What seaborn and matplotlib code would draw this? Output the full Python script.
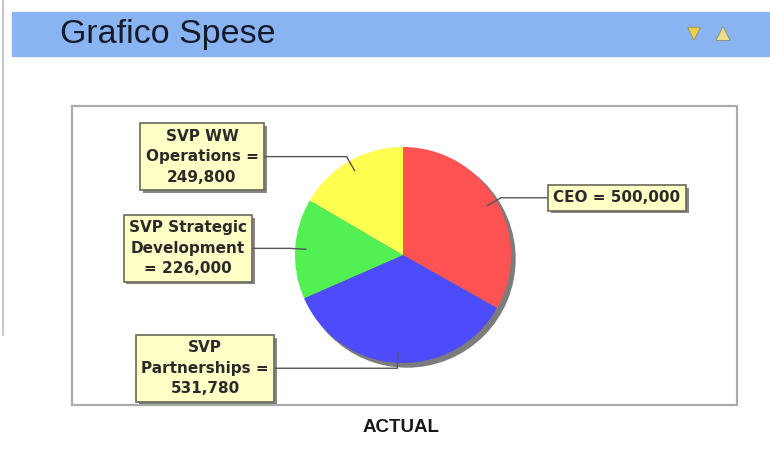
import numpy as np
import matplotlib
matplotlib.use("Agg")
import matplotlib.pyplot as plt
import matplotlib.patheffects as pe
from matplotlib.patches import Rectangle, Circle
import seaborn as sns

# data
labels = ["CEO", "SVP Partnerships", "SVP Strategic Development", "SVP WW Operations"]
values = [500000, 531780, 226000, 249800]
colors = ["#FF5252", "#4C4CFA", "#52F052", "#FFFF52"]
box_texts = [
    f"CEO = {values[0]:,}",
    f"SVP\nPartnerships =\n{values[1]:,}",
    f"SVP Strategic\nDevelopment\n= {values[2]:,}",
    f"SVP WW\nOperations =\n{values[3]:,}",
]
box_x = [617, 205, 188, 202]   # horizontal centre of each label box (px)

title = "Grafico Spese"
subtitle = "ACTUAL"

W, H = 770, 453
sns.set_theme(style="white")

fig = plt.figure(figsize=(W / 100, H / 100), dpi=100)
ax = fig.add_axes([0, 0, 1, 1])

# panel decorations
ax.add_patch(Rectangle((12, H - 56), W - 12, 44, color="#8AB3F2", zorder=0))
ax.plot([3, 3], [H, H - 335], color="#C8C8C8", lw=1.5)
ax.text(60, H - 34, title, fontsize=24.5, family="Liberation Sans",
        color="#141a2a", va="center", ha="left")
ax.text(694, H - 33, "\u25BC", fontsize=11, color="#E8D048", va="center", ha="center",
        path_effects=[pe.withStroke(linewidth=1.2, foreground="#9a9060")])
ax.text(723, H - 33, "\u25B2", fontsize=12, color="#EEDD88", va="center", ha="center",
        path_effects=[pe.withStroke(linewidth=1.2, foreground="#8a8a70")])
ax.add_patch(Rectangle((72, H - 405), 665, 299, fill=False, edgecolor="#ABABAB", lw=1.6, zorder=0))

# pie
cx, cy, r = 403, H - 255, 108
ax.add_patch(Circle((cx + 4, cy - 4), r, color="#7C7C7C", zorder=0.9))
wedges, _ = ax.pie(values, colors=colors, startangle=90, counterclock=False,
                   center=(cx, cy), radius=r, wedgeprops=dict(linewidth=0))

# leader lines and label boxes
for w, txt, bx in zip(wedges, box_texts, box_x):
    mid = np.deg2rad((w.theta1 + w.theta2) / 2)
    ax_, ay_ = cx + 0.9 * r * np.cos(mid), cy + 0.9 * r * np.sin(mid)
    ex, ey = cx + 1.05 * r * np.cos(mid), cy + 1.05 * r * np.sin(mid)
    ax.plot([bx, ex, ax_], [ey, ey, ay_], color="#555555", lw=1.0, zorder=2)
    t = ax.text(bx, ey, txt, ha="center", va="center", multialignment="center",
                fontsize=11, fontweight="bold", family="DejaVu Sans", color="#2a2a2a",
                linespacing=1.45, zorder=3,
                bbox=dict(boxstyle="square,pad=0.35", facecolor="#FFFFC6",
                          edgecolor="#6a6a5a", lw=1.2))
    t.get_bbox_patch().set_path_effects([
        pe.SimplePatchShadow(offset=(2, -2), shadow_rgbFace="#555555", alpha=0.7),
        pe.Normal()])

ax.text(401, H - 428, subtitle, fontsize=13.5, fontweight="bold",
        family="Liberation Sans", color="#1a1a1a", ha="center", va="center")

ax.set_xlim(0, W)
ax.set_ylim(0, H)
ax.set_aspect("auto")
ax.axis("off")

fig.savefig("out.png", dpi=100)
